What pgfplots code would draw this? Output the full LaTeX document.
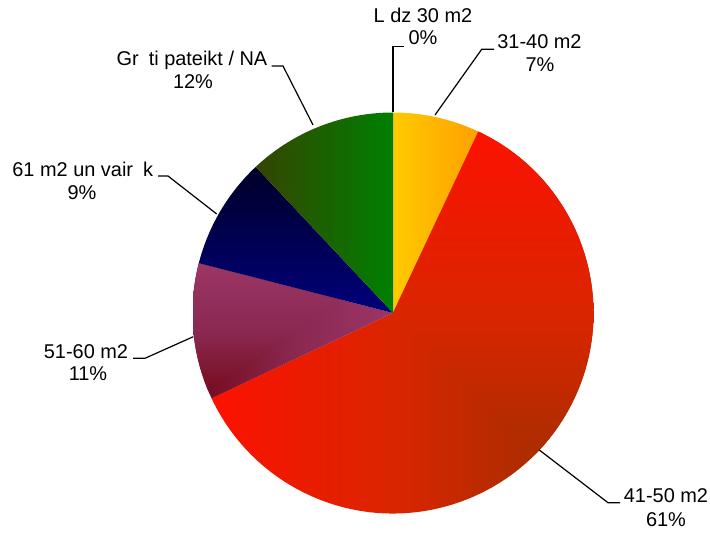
\documentclass[border=0pt]{standalone}
\usepackage{pgfplots}
\pgfplotsset{compat=1.18}
\usepackage{pgfplotstable}
\usepackage{fontspec}
\setmainfont{Liberation Sans}

% slice values (percent), clockwise from 12 o'clock
\pgfplotstableread{
slice value
0 0
1 7
2 61
3 11
4 9
5 12
}\piedata

\definecolor{yelA}{HTML}{FFCA00}
\definecolor{yelB}{HTML}{FFA000}
\definecolor{redA}{HTML}{FF1000}
\definecolor{redM}{HTML}{DA2500}
\definecolor{redB}{HTML}{983000}
\definecolor{purA}{HTML}{9C3666}
\definecolor{purM}{HTML}{8A2850}
\definecolor{purB}{HTML}{740818}
\definecolor{navA}{HTML}{000028}
\definecolor{navB}{HTML}{00007C}
\definecolor{grnA}{HTML}{354400}
\definecolor{grnB}{HTML}{008000}

% corner gradients built from one horizontal and one vertical shading
\pgfdeclarehorizontalshading{redH}{100bp}{color(0bp)=(redA); color(25bp)=(redA); color(50bp)=(redM); color(75bp)=(redB); color(100bp)=(redB)}
\pgfdeclareverticalshading{redV}{100bp}{color(0bp)=(redB); color(25bp)=(redB); color(50bp)=(redM); color(75bp)=(redA); color(100bp)=(redA)}
\pgfdeclarehorizontalshading{purH}{100bp}{color(0bp)=(purB); color(25bp)=(purB); color(50bp)=(purM); color(75bp)=(purA); color(100bp)=(purA)}
\pgfdeclareverticalshading{purV}{100bp}{color(0bp)=(purB); color(25bp)=(purB); color(50bp)=(purM); color(75bp)=(purA); color(100bp)=(purA)}

\tikzset{
  lbl/.style={anchor=base,inner sep=0pt,font=\fontsize{20}{24}\selectfont,text=black},
  lead/.style={draw=black,line width=1.2bp}
}
\newcommand\slicepath[1]{(axis cs:393,220) -- ++(\csname sa#1\endcsname:200.5bp) arc[start angle=\csname sa#1\endcsname, end angle=\csname ea#1\endcsname, radius=200.5bp] -- cycle}

\begin{document}
\begin{tikzpicture}
\begin{axis}[
  scale only axis, width=710bp, height=533bp,
  xmin=0, xmax=710, ymin=0, ymax=533,
  hide axis, clip=false]
\def\cum{0}
\pgfplotsforeachungrouped \i in {0,...,5}{%
  \pgfplotstablegetelem{\i}{value}\of\piedata
  \let\v\pgfplotsretval
  \pgfmathsetmacro\sa{90-3.6*\cum}%
  \pgfmathsetmacro\ea{90-3.6*(\cum+\v)}%
  \pgfmathsetmacro\cum{\cum+\v}%
  \expandafter\xdef\csname sa\i\endcsname{\sa}%
  \expandafter\xdef\csname ea\i\endcsname{\ea}%
}

% 31-40 m2 (slice 0 has zero size)
\shade[left color=yelA,right color=yelB] \slicepath{1};
% 41-50 m2 : gradient from the lower right corner
\begin{scope}
  \clip \slicepath{2};
  \shade[shading=redH] (axis cs:193,19.5) rectangle (axis cs:593.5,420.5);
  \begin{scope}
    \clip (axis cs:603.5,9.5) -- (axis cs:183.5,429.5) -- (axis cs:603.5,429.5) -- cycle;
    \shade[shading=redV] (axis cs:193,19.5) rectangle (axis cs:593.5,420.5);
  \end{scope}
\end{scope}
% 51-60 m2 : gradient from the lower left corner
\begin{scope}
  \clip \slicepath{3};
  \shade[shading=purH] (axis cs:193,131) rectangle (axis cs:393,270);
  \begin{scope}
    \clip (axis cs:183,124.05) -- (axis cs:403,276.95) -- (axis cs:183,276.95) -- cycle;
    \shade[shading=purV] (axis cs:193,131) rectangle (axis cs:393,270);
  \end{scope}
\end{scope}
% 61 m2 un vairak
\shade[top color=navA,bottom color=navB] \slicepath{4};
% Gruti pateikt / NA
\shade[left color=grnA,right color=grnB] \slicepath{5};

% leader lines
\draw[lead] (axis cs:393,421) -- (axis cs:393,486.3) -- (axis cs:404,486.3);
\draw[lead] (axis cs:435,418) -- (axis cs:481.7,483.7) -- (axis cs:494,483.7);
\draw[lead] (axis cs:313,408) -- (axis cs:283,467) -- (axis cs:271.7,467);
\draw[lead] (axis cs:216.7,319) -- (axis cs:168,357) -- (axis cs:158,357);
\draw[lead] (axis cs:193.3,196.3) -- (axis cs:145,174.7) -- (axis cs:133,174.7);
\draw[lead] (axis cs:539.3,83) -- (axis cs:608,30.3) -- (axis cs:620,30.3);

% labels
\node[lbl] at (axis cs:423,510.3) {L dz 30 m2};
\node[lbl] at (axis cs:423,488) {0\%};
\node[lbl] at (axis cs:539.5,484) {31-40 m2};
\node[lbl] at (axis cs:540,461) {7\%};
\node[lbl] at (axis cs:192,467) {Gr\enspace ti pateikt / NA};
\node[lbl] at (axis cs:193,444) {12\%};
\node[lbl] at (axis cs:82.7,356.3) {61 m2 un vair\enspace k};
\node[lbl] at (axis cs:82,333.7) {9\%};
\node[lbl] at (axis cs:86,174.7) {51-60 m2};
\node[lbl] at (axis cs:88,152.3) {11\%};
\node[lbl] at (axis cs:666,30.3) {41-50 m2};
\node[lbl] at (axis cs:666,6.3) {61\%};
\end{axis}
\pgfresetboundingbox
\useasboundingbox (0,0) rectangle (710bp,533bp);
\end{tikzpicture}
\end{document}
